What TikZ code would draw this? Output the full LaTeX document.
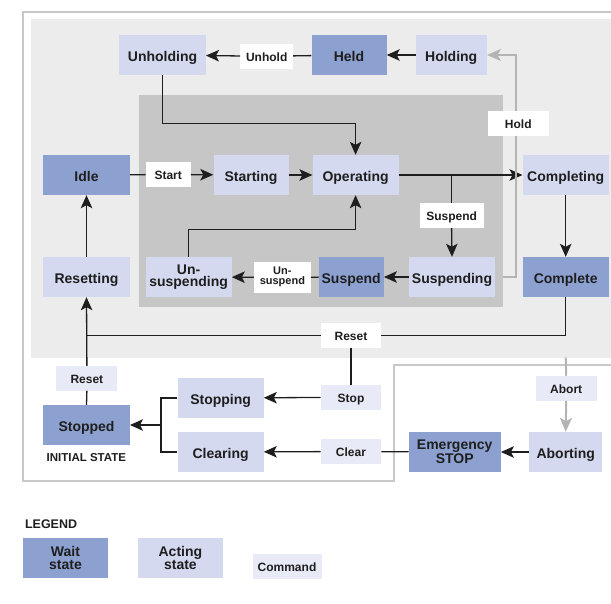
\documentclass[tikz,border=0pt]{standalone}
\usepackage{fontspec}
\setmainfont{Liberation Sans}
\usetikzlibrary{arrows.meta}

\definecolor{waitblue}{RGB}{141,161,209}
\definecolor{actblue}{RGB}{212,217,239}
\definecolor{cmdblue}{RGB}{232,234,247}
\definecolor{areagray}{RGB}{236,236,236}
\definecolor{innergray}{RGB}{198,198,198}
\definecolor{framegray}{RGB}{200,200,200}
\definecolor{holdgray}{RGB}{180,180,180}
\definecolor{linedark}{RGB}{30,30,30}

\tikzset{
  stbox/.style={inner sep=0pt, minimum height=40pt, minimum width=86pt, align=center,
    text height=13pt, text depth=0pt,
    font=\bfseries\fontsize{14}{12.5}\selectfont, text=linedark},
  waitst/.style={stbox, fill=waitblue},
  actst/.style={stbox, fill=actblue},
  cmdbox/.style={inner sep=0pt, minimum height=24.7pt, minimum width=61pt, align=center,
    text height=10pt, text depth=0pt,
    font=\bfseries\fontsize{12}{10.5}\selectfont, text=linedark},
  twoline/.style={text height={}, text depth={}},
  whitecmd/.style={cmdbox, fill=white},
  bluecmd/.style={cmdbox, fill=cmdblue},
  link/.style={draw=linedark, line width=1.3pt},
  flow/.style={link, -{Stealth[length=13pt,width=11.5pt,inset=3pt]}},
  holdflow/.style={draw=holdgray, line width=2pt},
  holdtip/.style={-{Stealth[length=14pt,width=12pt,inset=3.5pt]}},
}

\begin{document}
\begin{tikzpicture}[x=1pt, y=-1pt]
\useasboundingbox (0,0) rectangle (611,603);

% areas
\fill[areagray] (31.2,19) rectangle (625,357.5);
\fill[innergray] (138.7,95) rectangle (502.7,306.7);
\coordinate (innerse) at (502.7,306.7);
\draw[framegray, line width=2pt] (625,364.7) -- (393.5,364.7) -- (393.5,481)
  -- (23.4,481) -- (23.4,12.3) -- (625,12.3);

% states
\node[actst, minimum width=86.5pt] (unholding) at (162.5,55) {Unholding};
\node[waitst, minimum width=75pt] (held) at (349,55) {Held};
\node[actst, minimum width=71pt] (holding) at (451.2,55) {Holding};

\node[waitst, minimum width=86.5pt] (idle) at (86.5,175) {Idle};
\node[actst, minimum width=75pt] (starting) at (251,175) {Starting};
\node[actst] (operating) at (355.6,175) {Operating};
\node[actst] (completing) at (565.7,175) {Completing};

\node[actst, minimum width=86.5pt] (resetting) at (86.5,277) {Resetting};
\node[actst, twoline] (unsuspending) at (188.6,277) {Un-\\suspending};
\node[waitst, minimum width=65pt] (suspended) at (351.2,277) {Suspend};
\node[actst] (suspending) at (452,277) {Suspending};
\node[waitst] (complete) at (565.7,277) {Complete};

\node[waitst, minimum width=86.5pt] (stopped) at (86.5,425) {Stopped};
\node[actst] (stopping) at (220.6,398) {Stopping};
\node[actst] (clearing) at (220.6,452) {Clearing};
\node[waitst, twoline, minimum width=92pt] (estop) at (454.7,452) {Emergency\\STOP};
\node[actst, minimum width=73pt] (aborting) at (565.7,452) {Aborting};

\node[font=\bfseries\fontsize{11.5}{12}\selectfont, text=linedark] at (86.3,457.7) {INITIAL STATE};

% commands
\node[whitecmd, minimum width=52.6pt] (unhold) at (266.7,56.3) {Unhold};
\node[whitecmd, minimum width=45pt] (start) at (168.2,174.5) {Start};
\node[whitecmd, minimum width=64pt] (suspendcmd) at (451.6,215.5) {Suspend};
\node[whitecmd, twoline, minimum width=56.5pt, minimum height=30.7pt,
  font=\bfseries\fontsize{11}{10}\selectfont] (unsuspend) at (282.4,277.3) {Un-\\suspend};
\node[whitecmd, minimum width=60pt] (resetup) at (351,335.5) {Reset};
\node[bluecmd] (resetlow) at (86.9,378.3) {Reset};
\node[bluecmd, minimum width=60.4pt] (stopcmd) at (351,397.3) {Stop};
\node[bluecmd, minimum width=60.4pt] (clearcmd) at (351,451.5) {Clear};
\node[bluecmd] (abort) at (566.2,388.3) {Abort};

% transitions
\draw[flow] (holding) -- (held);
\draw[link] (held) -- (unhold);
\draw[flow] (unhold) -- (unholding);
\draw[flow] (unholding.south) -- ++(0,48.6) -| (operating.north);
\draw[link] (idle) -- (start);
\draw[flow] (start) -- (starting);
\draw[flow] (starting) -- (operating);
\draw[flow] (operating) -- (completing);
\draw[link] (suspendcmd.north |- operating.east) -- (suspendcmd.north);
\draw[flow] (suspendcmd.south) -- (suspending.north);
\draw[flow] (suspending) -- (suspended);
\draw[link] (suspended) -- (unsuspend);
\draw[flow] (unsuspend) -- (unsuspending);
\draw[flow] (unsuspending.north) -- ++(0,-27) -| (operating.south);
\draw[flow] (completing) -- (complete);
\draw[link] (complete.south) |- (resetup.east);
\draw[link] (resetup.west) -- (resetup.west -| resetting.south);
\draw[link] (stopped.north) -- (resetlow.south);
\draw[flow] (resetlow.north) -- (resetting.south);
\draw[flow] (resetting) -- (idle);
\draw[link] (resetup.south) -- (stopcmd.north);
\draw[flow] (stopcmd) -- (stopping);
\draw[link] (estop) -- (clearcmd);
\draw[flow] (clearcmd) -- (clearing);
\coordinate (merge) at (161,425);
\draw[link] (stopping.west) -| (merge) |- (clearing.west);
\draw[flow] (merge) -- (stopped.east);
\draw[flow] (aborting) -- (estop);

% hold and abort (grey)
\draw[holdflow, holdtip] (innerse |- suspending.east) -- ++(13.5,0) |- (holding.east);
\node[whitecmd] (hold) at (518.3,123.3) {Hold};
\coordinate (abortsrc) at (565.7,357.5);
\draw[holdflow] (abortsrc) -- (abort.north);
\draw[holdflow, holdtip] (abort.south) -- (aborting.north);

% legend
\node[anchor=west, font=\bfseries\fontsize{12.5}{13}\selectfont, text=linedark] at (21.5,524) {LEGEND};
\node[waitst, twoline, minimum width=85.7pt] (legwait) at (65.5,558) {Wait\\state};
\node[actst, twoline, minimum width=85.7pt] (legact) at (180.4,558) {Acting\\state};
\node[bluecmd, minimum width=69pt] (legcmd) at (287,566.3) {Command};
\end{tikzpicture}
\end{document}
